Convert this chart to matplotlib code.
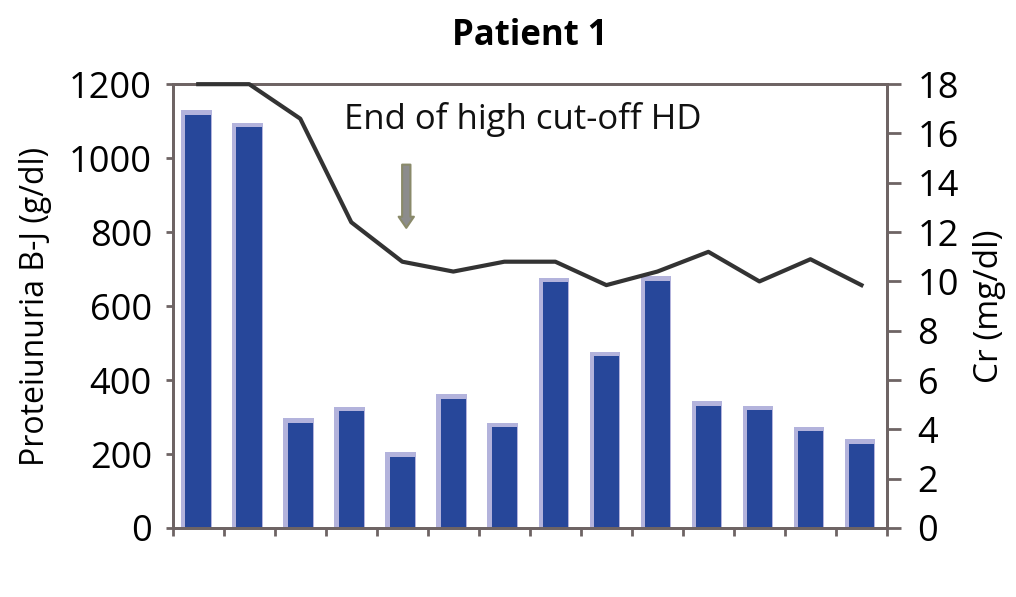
import numpy as np
import matplotlib
matplotlib.use("Agg")
import matplotlib.pyplot as plt

plt.rcParams['font.family'] = ['Open Sans', 'DejaVu Sans']

# data
visits = np.arange(1, 15)
proteinuria = [1130, 1095, 297, 327, 205, 362, 284, 676, 476, 680, 343, 330, 273, 240]
creatinine = [18, 18, 16.6, 12.4, 10.8, 10.4, 10.8, 10.8, 9.85, 10.4, 11.2, 10.0, 10.9, 9.85]

spine_color = '#6e6464'

fig = plt.figure(figsize=(10.16, 5.97), dpi=100)
ax = fig.add_axes([0.170, 0.1156, 0.703, 0.7434])

# bars with light "3d" shadow behind
ax.bar(visits - 0.03, proteinuria, width=0.6, color='#b3b3dc', zorder=1)
ax.bar(visits, np.array(proteinuria) - 12, width=0.5, color='#27479a', zorder=2)

ax.set_xlim(0.5, 14.5)
ax.set_ylim(0, 1200)
ax.set_yticks(range(0, 1201, 200))
ax.set_xticks(np.arange(0.5, 14.6, 1))
ax.set_xticklabels([])
ax.tick_params(axis='y', labelsize=26, length=5, color=spine_color, width=2, pad=10)
ax.tick_params(axis='x', length=6, color=spine_color, width=2)
ax.set_ylabel('Proteiunuria B-J (g/dl)', fontsize=23, labelpad=12)
for s in ax.spines.values():
    s.set_color(spine_color)
    s.set_linewidth(2)

ax2 = ax.twinx()
ax2.plot(visits, creatinine, color='#333333', lw=3, zorder=3, clip_on=False)
ax2.set_ylim(0, 18)
ax2.set_yticks(range(0, 19, 2))
ax2.tick_params(axis='y', labelsize=26, length=10, color=spine_color, width=2, pad=12)
ax2.set_ylabel('Cr (mg/dl)', fontsize=24, labelpad=10)
for s in ax2.spines.values():
    s.set_color(spine_color)
    s.set_linewidth(2)

ax.set_title('Patient 1', fontsize=25, fontweight='bold', pad=28)

ax.text(0.24, 0.92, 'End of high cut-off HD', transform=ax.transAxes,
        fontsize=25, va='center', ha='left', color='#111111')
ax.annotate('', xy=(0.327, 0.67), xytext=(0.327, 0.825), xycoords='axes fraction',
            arrowprops=dict(arrowstyle='simple,head_width=1.1,head_length=0.8,tail_width=0.6',
                            fc='#8c8c8c', ec='#8a8a6a', lw=1.5))

fig.savefig('out.png', dpi=100)
